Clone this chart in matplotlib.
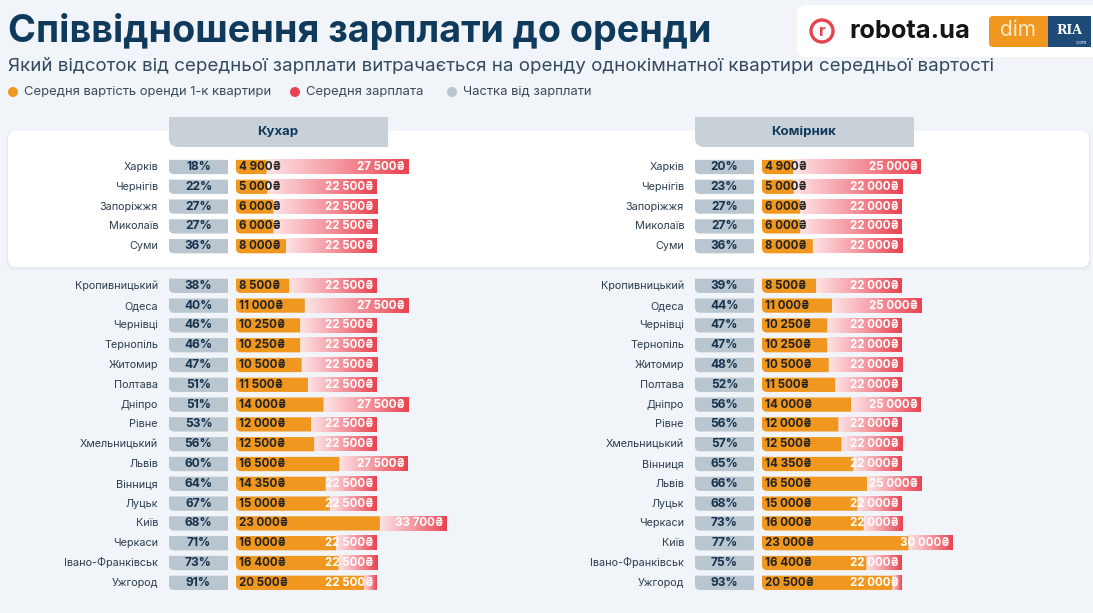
import numpy as np
import matplotlib.pyplot as plt
from matplotlib.path import Path
from matplotlib.patches import PathPatch, FancyBboxPatch, Circle, Rectangle
from matplotlib.colors import LinearSegmentedColormap

plt.rcParams['font.family'] = ['Inter', 'DejaVu Sans']

# values
cook_cities = ['Харків', 'Чернігів', 'Запоріжжя', 'Миколаїв', 'Суми',
               'Кропивницький', 'Одеса', 'Чернівці', 'Тернопіль', 'Житомир',
               'Полтава', 'Дніпро', 'Рівне', 'Хмельницький', 'Львів',
               'Вінниця', 'Луцьк', 'Київ', 'Черкаси', 'Івано-Франківськ', 'Ужгород']
cook_rent = [4900, 5000, 6000, 6000, 8000, 8500, 11000, 10250, 10250, 10500,
             11500, 14000, 12000, 12500, 16500, 14350, 15000, 23000, 16000, 16400, 20500]
cook_salary = [27500, 22500, 22500, 22500, 22500, 22500, 27500, 22500, 22500, 22500,
               22500, 27500, 22500, 22500, 27500, 22500, 22500, 33700, 22500, 22500, 22500]
cook_share = [18, 22, 27, 27, 36, 38, 40, 46, 46, 47, 51, 51, 53, 56, 60, 64, 67, 68, 71, 73, 91]

keeper_cities = ['Харків', 'Чернігів', 'Запоріжжя', 'Миколаїв', 'Суми',
                 'Кропивницький', 'Одеса', 'Чернівці', 'Тернопіль', 'Житомир',
                 'Полтава', 'Дніпро', 'Рівне', 'Хмельницький', 'Вінниця',
                 'Львів', 'Луцьк', 'Черкаси', 'Київ', 'Івано-Франківськ', 'Ужгород']
keeper_rent = [4900, 5000, 6000, 6000, 8000, 8500, 11000, 10250, 10250, 10500,
               11500, 14000, 12000, 12500, 14350, 16500, 15000, 16000, 23000, 16400, 20500]
keeper_salary = [25000, 22000, 22000, 22000, 22000, 22000, 25000, 22000, 22000, 22000,
                 22000, 25000, 22000, 22000, 22000, 25000, 22000, 22000, 30000, 22000, 22000]
keeper_share = [20, 23, 27, 27, 36, 39, 44, 47, 47, 48, 52, 56, 56, 57, 65, 66, 68, 73, 77, 75, 93]

n_top = 5  # first cities sit in the white highlighted block

title = 'Співвідношення зарплати до оренди'
subtitle = 'Який відсоток від середньої зарплати витрачається на оренду однокімнатної квартири середньої вартості'
legend_labels = ['Середня вартість оренди 1-к квартири', 'Середня зарплата', 'Частка від зарплати']

# colours
bg_col = '#f1f4f8'
navy = '#0f3a5c'
orange = '#f0971f'
red = '#e8434f'
box_gray = '#b9c5cf'
tab_gray = '#c9d1d8'
pink_red = LinearSegmentedColormap.from_list('pr', ['#fde3e5', '#f597a0', red])

W, H = 1093, 613
row = 19.8          # pixels between rows
top = 167 - row / 2  # top edge of first row
bar_h = 0.72
xmax = 36000

fig = plt.figure(figsize=(W / 100, H / 100), dpi=100, facecolor=bg_col)
bg = fig.add_axes([0, 0, 1, 1], zorder=0)
bg.set_xlim(0, W)
bg.set_ylim(H, 0)
bg.axis('off')


def money(v):
    return f'{v:,}'.replace(',', ' ') + '₴'


def fit_width(t, width):
    r = fig.canvas.get_renderer()
    w = t.get_window_extent(r).width
    t.set_fontsize(t.get_fontsize() * width / w)


def lower_left_rounded(ax, x0, x1, y_top, y_bot, rx, ry, **kw):
    # rectangle with only the lower-left corner rounded (y axis inverted)
    verts = [(x0 + rx, y_bot), (x1, y_bot), (x1, y_top), (x0, y_top),
             (x0, y_bot - ry), (x0, y_bot), (x0 + rx, y_bot)]
    codes = [Path.MOVETO, Path.LINETO, Path.LINETO, Path.LINETO,
             Path.LINETO, Path.CURVE3, Path.CURVE3]
    ax.add_patch(PathPatch(Path(verts, codes), clip_on=False, lw=0, **kw))


# header texts
t = bg.text(8, 31, title, fontsize=28, weight='bold', color=navy, va='center')
fit_width(t, 702)
t = bg.text(8, 66, subtitle, fontsize=13, color='#34495e', va='center')
fit_width(t, 980)
for x, c, lab in zip([13, 295, 452], [orange, red, box_gray], legend_labels):
    bg.add_patch(Circle((x, 92), 5, color=c, lw=0))
    bg.text(x + 11, 92, lab, fontsize=9.4, color='#3d4b59', va='center')

# white highlight block with soft shadow
for off, a in [(4, 0.05), (2, 0.08)]:
    bg.add_patch(FancyBboxPatch((8 - off / 2, 131), 1081 + off, 136 + off,
                                boxstyle='round,pad=0,rounding_size=9',
                                fc='#9aa7b4', alpha=a, lw=0))
bg.add_patch(FancyBboxPatch((8, 131), 1081, 136, boxstyle='round,pad=0,rounding_size=8',
                            fc='white', lw=0))

# logos
bg.add_patch(FancyBboxPatch((797, 5), 320, 52, boxstyle='round,pad=0,rounding_size=10',
                            fc='white', lw=0))
bg.add_patch(Circle((822, 31), 11, fc='white', ec=red, lw=2.4))
bg.text(822, 31, 'r', fontsize=12, weight='bold', color=red, ha='center', va='center')
t = bg.text(849, 31, 'robota.ua', fontsize=16, weight='bold', color='#151515', va='center')
fit_width(t, 121)
bg.add_patch(FancyBboxPatch((989, 16), 66, 31, boxstyle='round,pad=0,rounding_size=4',
                            fc=orange, lw=0))
bg.add_patch(Rectangle((1048, 16), 43, 31, fc='#1e4b78', lw=0))
bg.text(1018, 30, 'dim', fontsize=15, color='#fde9c8', ha='center', va='center')
bg.text(1069, 31, 'RIA', fontsize=9, weight='bold', family='DejaVu Serif',
        color='white', ha='center', va='center')
bg.text(1081, 42, '.com', fontsize=3.5, color='white', ha='center', va='center')


def draw_panel(left_px, scale, head, cities, rent, salary, share):
    px = 1 / scale  # UAH per pixel
    ax = fig.add_axes([left_px / W, 1 - (top + 22 * row) / H, xmax * scale / W, 22 * row / H],
                      zorder=1)
    ax.axis('off')
    ry = 5 / row
    grad = np.linspace(0, 1, 256).reshape(1, -1)

    # column header tab
    lower_left_rounded(ax, -67 * px, 152 * px, (117 - 167) / row, (147 - 167) / row,
                       9 * px, 9 / row, fc=tab_gray, zorder=3)
    ax.text(42 * px, (132 - 167) / row, head, fontsize=9.5, weight='bold', color=navy,
            ha='center', va='center', zorder=4)

    slots = [i if i < n_top else i + 1 for i in range(len(cities))]
    for s, city, r, sal, sh in zip(slots, cities, rent, salary, share):
        y0, y1 = s - bar_h / 2, s + bar_h / 2
        ax.imshow(grad, extent=(r, sal, y1, y0), cmap=pink_red, aspect='auto',
                  interpolation='bilinear', zorder=1)
        lower_left_rounded(ax, 0, r, y0, y1, 5 * px, ry, fc=orange, zorder=2)
        lower_left_rounded(ax, -67 * px, -8 * px, y0, y1, 5 * px, ry, fc=box_gray, zorder=2)
        ax.text(-78 * px, s, city, fontsize=7.8, color='#2d3e50', ha='right', va='center')
        ax.text(-37.5 * px, s, f'{sh}%', fontsize=8.6, weight='bold', color='#15324f',
                ha='center', va='center', zorder=4)
        ax.text(3 * px, s, money(r), fontsize=8.3, weight='bold', color='#222222',
                va='center', zorder=4)
        ax.text(sal - 3 * px, s, money(sal), fontsize=8.3, weight='bold', color='white',
                ha='right', va='center', zorder=4)

    ax.set_xlim(0, xmax)
    ax.set_ylim(21.5, -0.5)
    return ax


draw_panel(236, 172 / 27500, 'Кухар', cook_cities, cook_rent, cook_salary, cook_share)
draw_panel(762, 159 / 25000, 'Комірник', keeper_cities, keeper_rent, keeper_salary, keeper_share)

fig.savefig('out.png', dpi=100, facecolor=bg_col)
